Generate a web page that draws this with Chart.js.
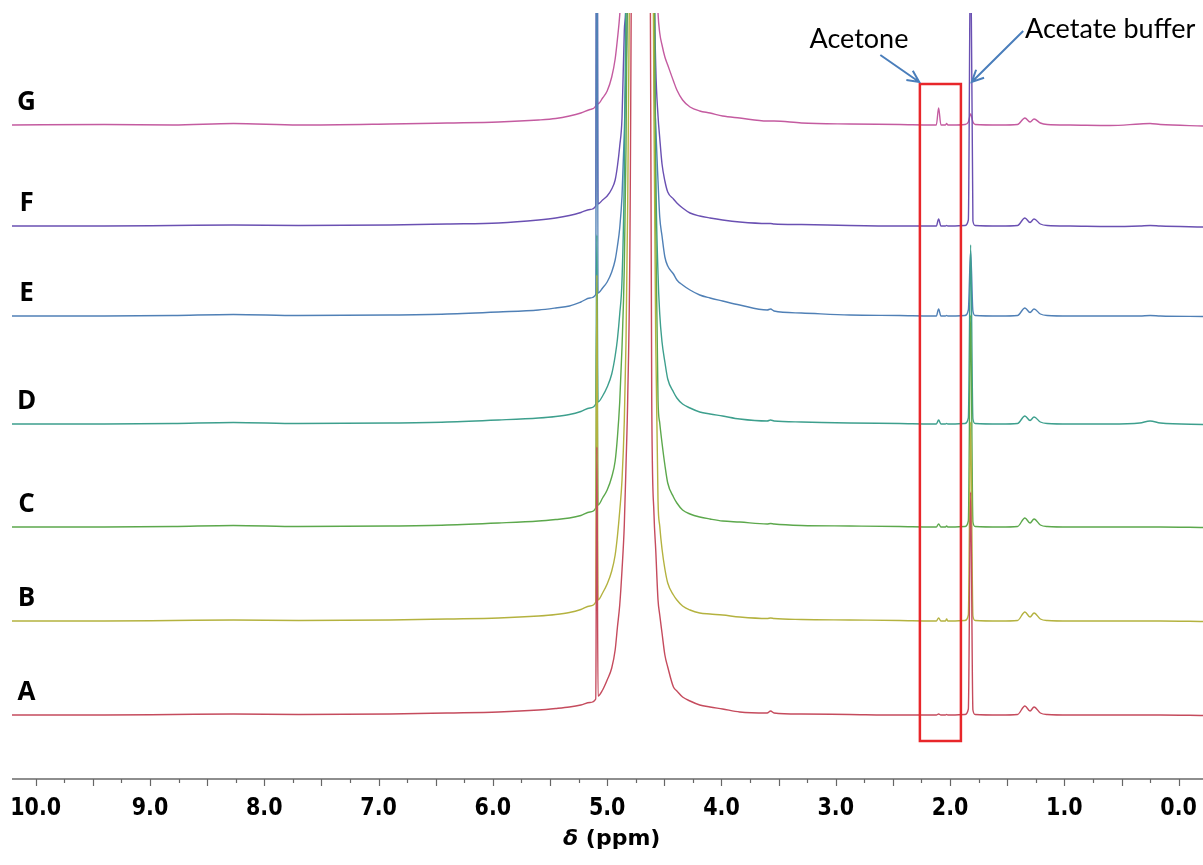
<!DOCTYPE html>
<html>
<head>
<meta charset="utf-8">
<title>1H NMR stack</title>
<script src="https://cdn.jsdelivr.net/npm/chart.js@4.4.1/dist/chart.umd.min.js"></script>
<style>
  html, body { margin: 0; padding: 0; background: #ffffff; }
  #wrap { width: 1203px; height: 865px; }
</style>
</head>
<body>
<div id="wrap"><canvas id="nmr" width="1203" height="865"></canvas></div>
<script>
// chemical shift grid (ppm) shared by all traces
const ppm = [10.21, 9.40, 8.80, 8.27, 7.70, 6.90, 6.40, 5.95, 5.60,
  5.45, 5.33, 5.23, 5.15, 5.10, 5.09, 5.08, 5.04, 5.00, 4.96,
  4.93, 4.91, 4.89, 4.87, 4.85, 4.835, 4.82, 4.80,
  4.70,
  4.61, 4.59, 4.575, 4.555, 4.54, 4.52, 4.495, 4.47, 4.42, 4.39,
  4.34, 4.275, 4.19, 4.10, 3.99, 3.84, 3.60, 3.57, 3.54, 3.30,
  2.88, 2.44, 2.16, 2.12, 2.10, 2.08, 2.04, 2.03, 2.02, 1.98,
  1.87, 1.84, 1.82, 1.80, 1.78, 1.56, 1.41, 1.345, 1.30, 1.265,
  1.21, 1.15, 0.95, 0.60, 0.34, 0.25, 0.16, -0.22];

// intensities (same length as ppm)
const intensityA = [0, 0, 0.5, 1, 0.5, 1, 2, 3, 5,
  6.5, 8, 10, 12.5, 16, 268, 19, 25, 35, 47,
  65, 88, 110, 145, 190, 250, 318, 485,
  3000,
  315, 200, 165, 115, 100, 82, 60, 48, 28, 24,
  18, 14, 10, 8, 6, 3, 2, 4, 2, 1,
  0.5, 0, 0, 0, 1, 0, 0, 0.5, 0, 0,
  0.5, 6, 223, 5, 0.5, 0, 0.5, 9, 4, 8,
  2, 0.5, 0, 0, 0, 0, 0, -0.5];
const intensityB = [0, 0, 0.5, 1, 0.5, 1, 2, 3, 5,
  6.5, 8.5, 11.5, 15, 19, 346, 21, 28, 37, 50,
  66, 85, 110, 141, 200, 280, 420, 700,
  3000,
  900, 500, 280, 120, 95, 72, 52, 38, 26, 21,
  15, 11, 8, 7, 6, 4, 2.5, 3, 2.5, 1.5,
  1, 0.5, 0, 0, 3, 0, 0, 2, 0, 0,
  0.5, 6, 199, 5, 0.5, 0, 0.5, 9, 4, 8,
  2, 0.5, 0, 0, 0, 0, 0, -0.5];
const intensityC = [0, 0, 0.5, 1.5, 0.5, 1, 2, 4, 6,
  7.5, 9, 11.5, 15, 19, 240, 22, 29, 37, 50,
  66, 90, 125, 180, 260, 380, 600, 900,
  3000,
  900, 600, 300, 127, 104, 84, 62, 44, 30, 24,
  17, 13, 10, 8, 6, 5, 3, 3.5, 3, 1.5,
  1, 0.5, 0, 0, 3, 0, 0, 1, 0, 0,
  0.5, 6, 212, 5, 0.5, 0, 0.5, 9, 4, 8,
  2, 0.5, 0, 0, 0, 0, 0, -0.5];
const intensityD = [0, 0, 0.5, 1.5, 0.5, 1, 2, 4, 6,
  7.5, 9.5, 12.5, 16, 20, 189, 22, 28, 37, 50,
  68, 85, 110, 144, 250, 450, 700, 900,
  3000,
  900, 500, 260, 150, 110, 82, 62, 45, 32, 26,
  20, 16, 12, 10, 8, 5, 3, 4, 3, 2,
  1, 0.5, 0, 0, 4, 0, 0, 0.5, 0, 0,
  0.5, 6, 179, 5, 0.5, 0, 0.5, 8, 3.5, 7,
  2, 0.5, 0, 0, 1, 3, 1, -0.5];
const intensityE = [0, 0, 0.5, 1.5, 0.5, 1, 2, 4, 6,
  8, 10, 14, 18, 21.5, 600, 23, 28, 34, 44,
  56, 70, 88, 120, 183, 245, 330, 600,
  3000,
  600, 250, 190, 135, 99, 80, 59, 50, 42, 36,
  31, 26, 21, 18, 15, 11, 6, 7, 5, 3,
  1, 0.5, 0, 0, 7, 0, 0, 0.5, 0, 0,
  0.5, 6, 65, 5, 0.5, 0, 0.5, 8, 3.5, 7,
  2, 0.5, 0, 0, 0, 0.5, 0, -0.5];
const intensityF = [0, 0, 0.5, 1, 0.5, 1, 2, 3, 6,
  8, 10.5, 13.5, 16.5, 20, 500, 22, 26, 30, 37,
  46, 60, 80, 108, 195, 230, 400, 600,
  3000,
  600, 260, 160, 110, 88, 62, 45, 34, 27, 23,
  18, 13, 10, 8, 6, 4, 2.5, 2.5, 2, 1.5,
  0.5, 0, 0, 0, 7, 0, 0, 0.5, 0, 0,
  0.5, 6, 300, 5, 0.5, 0, 0.5, 8, 3.5, 7,
  2, 0.5, 0, -0.5, 0, 0.5, 0, -1];
const intensityG = [0, 0.5, 0, 1.5, 0, 1, 2, 3, 5,
  6.5, 9, 12, 15.5, 19, 26, 21, 27, 34, 48,
  66, 86, 110, 150, 250, 350, 450, 600,
  3000,
  400, 300, 180, 112, 92, 80, 68, 60, 44, 35,
  25, 18, 14, 12, 9, 7, 4, 4, 4, 2,
  1, 0.5, 0, 0, 17, 0, 0, 1.5, 0, 0,
  0.5, 3, 11, 3, 0.5, 0, 0.5, 7, 3, 6,
  2, 0.5, 0, -0.5, 1, 1.5, 0.5, -1];

// stacking: sample names and vertical offset of each baseline
const sampleNames = ['A', 'B', 'C', 'D', 'E', 'F', 'G'];
const baselineOffsets = [64, 158, 252, 355, 463, 553, 654];
const intensities = [intensityA, intensityB, intensityC, intensityD, intensityE, intensityF, intensityG];

const tickLabels = ['10.0', '9.0', '8.0', '7.0', '6.0', '5.0', '4.0', '3.0', '2.0', '1.0', '0.0'];

const traceColors = ['#c54b5d', '#b4b23f', '#5ca84c', '#3d9f8d', '#5080b6', '#6a50b2', '#c45ba0'];

intensities.forEach((arr, k) => {
  if (arr.length !== ppm.length) console.warn('length mismatch', sampleNames[k], arr.length, ppm.length);
});

const datasets = sampleNames.map((name, k) => ({
  label: name,
  data: ppm.map((p, i) => ({ x: p, y: baselineOffsets[k] + intensities[k][i] })),
  borderColor: traceColors[k],
  borderWidth: 1.4,
  pointRadius: 0,
  cubicInterpolationMode: 'monotone',
  fill: false
}));

// minor ticks every 0.25 ppm, labels only on whole numbers
const tickValues = [];
for (let v = 0; v <= 10; v += 0.25) tickValues.push(v);

function drawArrow(ctx, x0, y0, x1, y1) {
  const a = Math.atan2(y1 - y0, x1 - x0);
  const len = 13, spread = 0.45;
  ctx.beginPath();
  ctx.moveTo(x0, y0);
  ctx.lineTo(x1, y1);
  ctx.moveTo(x1 - len * Math.cos(a - spread), y1 - len * Math.sin(a - spread));
  ctx.lineTo(x1, y1);
  ctx.lineTo(x1 - len * Math.cos(a + spread), y1 - len * Math.sin(a + spread));
  ctx.stroke();
}

const overlay = {
  id: 'overlay',
  afterDatasetsDraw(chart) {
    const { ctx, chartArea: area, scales: { x, y } } = chart;
    ctx.save();

    // axis line + tick marks
    ctx.strokeStyle = '#8e8e8e';
    ctx.lineWidth = 2;
    ctx.beginPath();
    ctx.moveTo(area.left, area.bottom);
    ctx.lineTo(area.right, area.bottom);
    ctx.stroke();
    ctx.lineWidth = 1.2;
    ctx.strokeStyle = '#666';
    tickValues.forEach(v => {
      const px = Math.round(x.getPixelForValue(v)) + 0.5;
      const len = (v * 2) % 1 === 0 ? 7 : 4;
      ctx.beginPath();
      ctx.moveTo(px, area.bottom);
      ctx.lineTo(px, area.bottom + len);
      ctx.stroke();
    });

    // tick labels, slightly condensed bold
    ctx.fillStyle = '#000';
    ctx.font = 'bold 24px "DejaVu Sans", sans-serif';
    ctx.textAlign = 'center';
    ctx.textBaseline = 'alphabetic';
    tickLabels.forEach(t => {
      const px = x.getPixelForValue(parseFloat(t));
      ctx.save();
      ctx.translate(px, area.bottom + 36);
      ctx.scale(0.86, 1);
      ctx.fillText(t, 0, 0);
      ctx.restore();
    });

    // red box round the acetone region
    ctx.strokeStyle = '#e8262a';
    ctx.lineWidth = 2.5;
    const bx0 = x.getPixelForValue(2.264), bx1 = x.getPixelForValue(1.905);
    const by0 = y.getPixelForValue(695), by1 = y.getPixelForValue(38);
    ctx.strokeRect(bx0, by0, bx1 - bx0, by1 - by0);

    // arrows
    ctx.strokeStyle = '#4a7ebb';
    ctx.lineWidth = 2;
    drawArrow(ctx, x.getPixelForValue(2.61), y.getPixelForValue(724),
      x.getPixelForValue(2.27), y.getPixelForValue(697));
    drawArrow(ctx, x.getPixelForValue(1.36), y.getPixelForValue(748),
      x.getPixelForValue(1.81), y.getPixelForValue(697));

    // annotation text
    ctx.fillStyle = '#000';
    ctx.font = '27px Lato, "Open Sans", sans-serif';
    ctx.textBaseline = 'alphabetic';
    ctx.textAlign = 'center';
    ctx.fillText('Acetone', x.getPixelForValue(2.797), y.getPixelForValue(731));
    ctx.textAlign = 'left';
    ctx.fillText('Acetate buffer', x.getPixelForValue(1.344), y.getPixelForValue(741));

    // trace letters
    ctx.font = 'bold 26px "Open Sans", Lato, sans-serif';
    ctx.textAlign = 'center';
    ctx.textBaseline = 'middle';
    sampleNames.forEach((name, k) => {
      ctx.fillText(name, x.getPixelForValue(10.08), y.getPixelForValue(baselineOffsets[k] + 22));
    });

    // axis title: italic delta + (ppm)
    const titleY = area.bottom + 60;
    ctx.textBaseline = 'middle';
    ctx.textAlign = 'left';
    const f1 = 'italic bold 22px "DejaVu Sans", sans-serif';
    const f2 = 'bold 22px "DejaVu Sans", sans-serif';
    ctx.font = f1;
    const w1 = ctx.measureText('δ').width;
    ctx.font = f2;
    const w2 = ctx.measureText(' (ppm)').width;
    const cx = x.getPixelForValue(4.96);
    const tx = cx - (w1 + w2) / 2;
    ctx.font = f1;
    ctx.fillText('δ', tx, titleY);
    ctx.font = f2;
    ctx.fillText(' (ppm)', tx + w1, titleY);

    ctx.restore();
  }
};

new Chart(document.getElementById('nmr'), {
  type: 'line',
  data: { datasets },
  options: {
    responsive: false,
    animation: false,
    events: [],
    layout: { autoPadding: false, padding: { left: 12, right: 0, top: 13, bottom: 46 } },
    plugins: { legend: { display: false }, tooltip: { enabled: false } },
    scales: {
      x: {
        type: 'linear',
        reverse: true,
        min: -0.213,
        max: 10.207,
        afterBuildTicks: axis => { axis.ticks = tickValues.map(v => ({ value: v })); },
        afterFit: scale => { scale.height = 40; },
        grid: { display: false, drawTicks: false },
        border: { display: false },
        ticks: { display: false }
      },
      y: { display: false, min: 0, max: 766 }
    }
  },
  plugins: [overlay]
});
</script>
</body>
</html>
